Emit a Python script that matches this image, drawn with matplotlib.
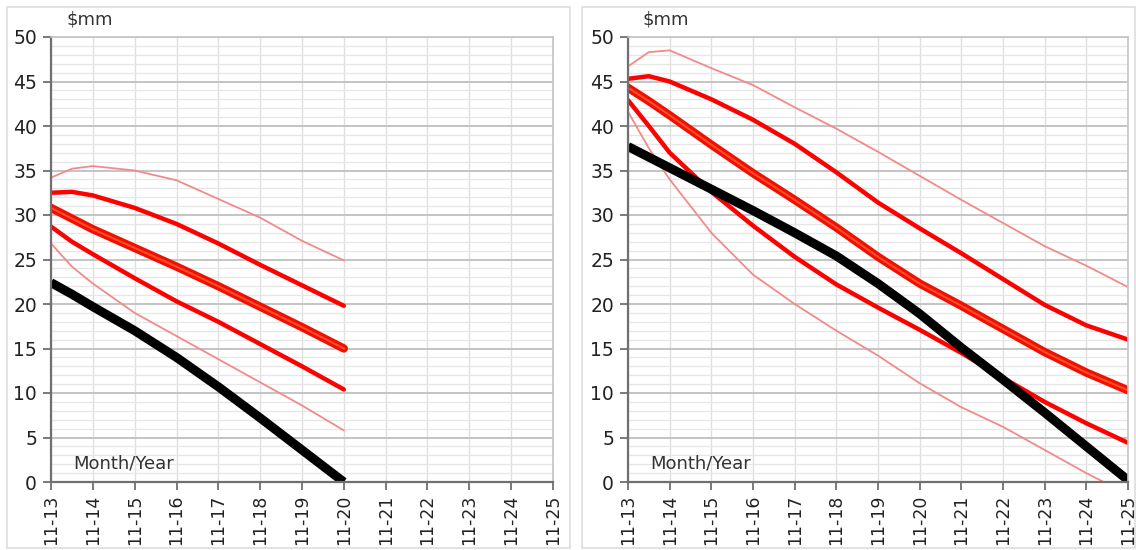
import numpy as np
import matplotlib
matplotlib.use("Agg")
import matplotlib.pyplot as plt
from matplotlib.patches import Rectangle

# tick labels, one per year
years = ["11-13", "11-14", "11-15", "11-16", "11-17", "11-18", "11-19",
         "11-20", "11-21", "11-22", "11-23", "11-24", "11-25"]

# left chart, years after 11-13
x_left = [0, 0.5, 1, 2, 3, 4, 5, 6, 7]
left_hi_thin = [34.2, 35.2, 35.5, 35.0, 33.9, 31.8, 29.7, 27.1, 24.9]
left_hi = [32.5, 32.6, 32.2, 30.8, 29.0, 26.8, 24.4, 22.1, 19.8]
left_mid = [30.8, 29.6, 28.4, 26.3, 24.2, 22.0, 19.7, 17.4, 15.0]
left_lo = [28.7, 27.0, 25.6, 22.9, 20.3, 18.0, 15.5, 13.0, 10.4]
left_lo_thin = [26.8, 24.2, 22.3, 19.0, 16.4, 13.8, 11.2, 8.6, 5.8]
left_black = [22.4, 21.1, 19.7, 17.0, 14.0, 10.7, 7.2, 3.6, 0.0]

# right chart
x_right = [0, 0.5, 1, 2, 3, 4, 5, 6, 7, 8, 9, 10, 11, 12]
right_hi_thin = [46.7, 48.3, 48.5, 46.5, 44.6, 42.1, 39.7, 37.1, 34.4, 31.7, 29.1, 26.5, 24.3, 21.9]
right_hi = [45.3, 45.6, 45.0, 43.0, 40.7, 38.0, 34.8, 31.4, 28.5, 25.7, 22.8, 19.9, 17.6, 16.0]
right_mid = [44.3, 42.8, 41.2, 37.9, 34.7, 31.7, 28.6, 25.3, 22.3, 19.8, 17.2, 14.6, 12.3, 10.3]
right_lo = [42.9, 40.0, 37.0, 32.6, 28.8, 25.3, 22.2, 19.6, 17.1, 14.5, 11.7, 9.0, 6.6, 4.4]
right_lo_thin = [41.6, 37.5, 34.0, 28.0, 23.3, 20.0, 17.0, 14.2, 11.1, 8.4, 6.2, 3.6, 1.0, -1.4]
right_black = [37.7, 36.5, 35.3, 32.9, 30.5, 28.0, 25.4, 22.3, 18.9, 15.1, 11.5, 7.8, 4.0, 0.2]

fig = plt.figure(figsize=(11.36, 5.5), dpi=100)
fig.patch.set_facecolor("white")

# panel frames
for x0, w in [(7, 563), (582, 553)]:
    fig.patches.append(Rectangle((x0 / 1136, 2 / 550), w / 1136, 541 / 550,
                                 transform=fig.transFigure, fill=False,
                                 edgecolor="#dddddd", lw=1.2))

light = "#f28a8a"
red = "#ff0000"


def draw(ax, x, hi_thin, hi, mid, lo, lo_thin, black):
    ax.set_xlim(0, 12)
    ax.set_ylim(0, 50)
    ax.set_yticks(np.arange(0, 51, 5))
    ax.set_yticks(np.arange(0, 51, 1), minor=True)
    ax.set_xticks(np.arange(13))
    ax.set_xticklabels(years, rotation=90)
    ax.grid(which="minor", axis="y", color="#e6e6e6", lw=0.9)
    ax.grid(which="major", axis="y", color="#c4c4c4", lw=1.4)
    ax.grid(which="major", axis="x", color="#e0e0e0", lw=1.0)
    ax.set_axisbelow(True)
    ax.tick_params(which="minor", length=0)
    ax.tick_params(which="major", length=6, width=1.3, color="#707070",
                   labelsize=13.5, labelcolor="#222222", pad=4)
    ax.tick_params(axis="x", labelsize=12.5, pad=3)
    for s in ["left", "bottom"]:
        ax.spines[s].set_color("#707070")
        ax.spines[s].set_linewidth(1.6)
    for s in ["top", "right"]:
        ax.spines[s].set_color("#c4c4c4")
        ax.spines[s].set_linewidth(1.2)

    ax.plot(x, hi_thin, color=light, lw=1.3)
    ax.plot(x, lo_thin, color=light, lw=1.3)
    ax.plot(x, hi, color=red, lw=3.2, solid_capstyle="round")
    ax.plot(x, lo, color=red, lw=3.2, solid_capstyle="round")
    ax.plot(x, mid, color="#f01000", lw=6, solid_capstyle="round")
    ax.plot(x, mid, color="#ff4a2a", lw=1.5)
    ax.plot(x, black, color="black", lw=6.5, solid_capstyle="butt")

    ax.text(0.044, 0.022, "Month/Year", transform=ax.transAxes,
            fontsize=13, color="#333333", ha="left", va="bottom")
    ax.text(0.03, 1.02, "$mm", transform=ax.transAxes, fontsize=13,
            color="#333333", ha="left", va="bottom", parse_math=False)


ax1 = fig.add_axes([51 / 1136, 68 / 550, 502 / 1136, 445 / 550])
draw(ax1, x_left, left_hi_thin, left_hi, left_mid, left_lo, left_lo_thin, left_black)

ax2 = fig.add_axes([628 / 1136, 68 / 550, 500 / 1136, 445 / 550])
draw(ax2, x_right, right_hi_thin, right_hi, right_mid, right_lo, right_lo_thin, right_black)

fig.savefig("out.png", dpi=100)
